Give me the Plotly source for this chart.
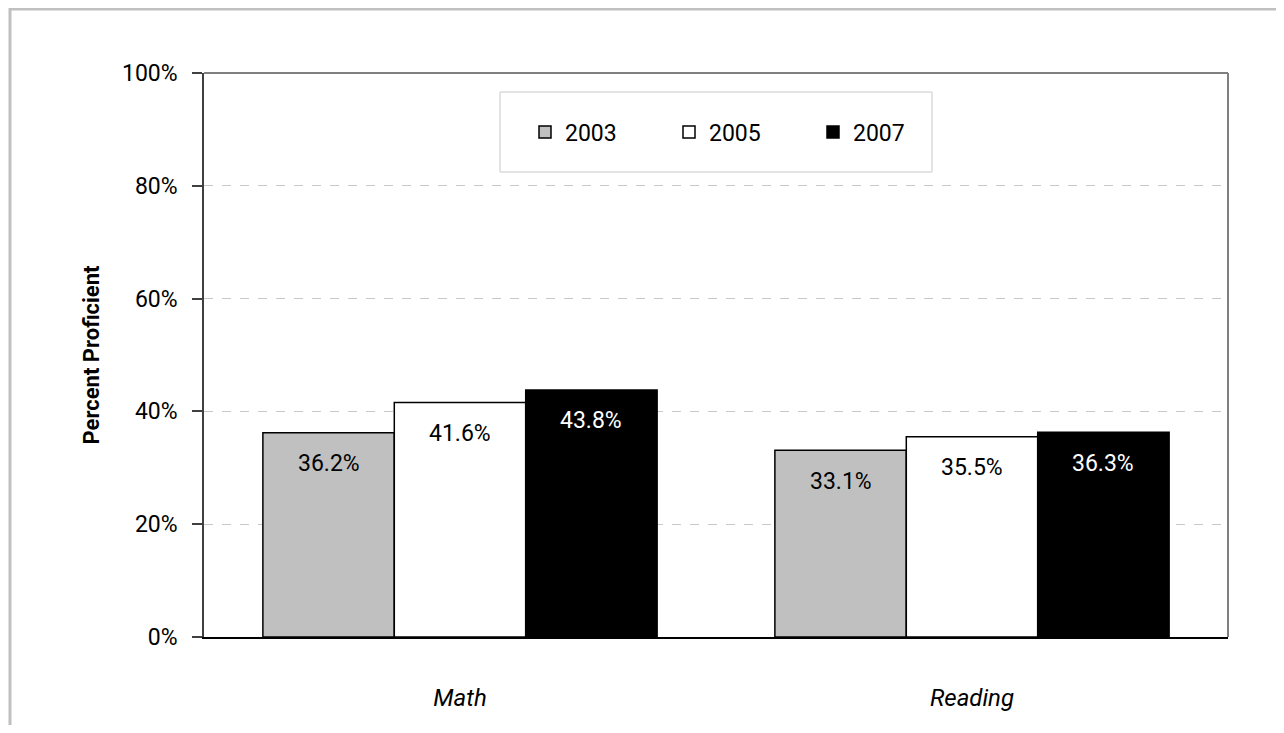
import plotly.graph_objects as go

categories = ["Math", "Reading"]
years = ["2003", "2005", "2007"]
values_2003 = [36.2, 33.1]
values_2005 = [41.6, 35.5]
values_2007 = [43.8, 36.3]
y_ticks = [0, 20, 40, 60, 80, 100]
y_tick_labels = ["0%", "20%", "40%", "60%", "80%", "100%"]

series = [values_2003, values_2005, values_2007]
fills = ["#c0c0c0", "#ffffff", "#000000"]
label_colors = ["#000000", "#000000", "#ffffff"]

FONT = "Roboto, Liberation Sans Narrow, sans-serif"

OFF = 8  # page offset of the plot div
W, H = 1284 - 2 * OFF, 733 - 2 * OFF
ML, MT = 204 - OFF, 73 - OFF
MR = W - (1228 - OFF)
MB = H - (637 - OFF)
PW, PH = W - ML - MR, H - MT - MB

def px_x(p):  # reference-pixel x -> paper
    return (p - OFF - ML) / PW

def px_y(p):  # reference-pixel y -> paper
    return (H - MB - (p - OFF)) / PH

fig = go.Figure()
for name, vals, fc in zip(years, series, fills):
    fig.add_trace(go.Bar(
        name=name, x=categories, y=vals,
        marker=dict(color=fc, line=dict(color="#000000", width=1.5)),
    ))

bar_px = PW / len(categories) * 0.77 / 3
annotations = []
for i, (vals, tc) in enumerate(zip(series, label_colors)):
    for cat, v in zip(categories, vals):
        annotations.append(dict(
            x=cat, y=v, xref="x", yref="y", text=f"{v:.1f}%",
            showarrow=False, xshift=(i - 1) * bar_px, yshift=-31,
            yanchor="middle", font=dict(family=FONT, size=23, color=tc),
        ))

shapes = [
    dict(type="rect", xref="paper", yref="paper",
         x0=px_x(10), x1=px_x(1295), y0=px_y(745), y1=px_y(9),
         line=dict(color="#c0c0c0", width=3), fillcolor="rgba(0,0,0,0)", layer="below"),
    dict(type="rect", xref="paper", yref="paper",
         x0=px_x(500), x1=px_x(932), y0=px_y(172), y1=px_y(92),
         line=dict(color="#c8c8c8", width=1), fillcolor="#ffffff", layer="above"),
    dict(type="line", xref="paper", yref="paper", x0=0, x1=1, y0=1, y1=1,
         line=dict(color="#808080", width=2)),
    dict(type="line", xref="paper", yref="paper", x0=1, x1=1, y0=0, y1=1,
         line=dict(color="#808080", width=2)),
]

fig.update_layout(
    width=W, height=H,
    margin=dict(l=ML, r=MR, t=MT, b=MB),
    paper_bgcolor="#ffffff", plot_bgcolor="#ffffff",
    barmode="group", bargap=0.23, bargroupgap=0,
    font=dict(family=FONT, size=22, color="#000000"),
    showlegend=True,
    legend=dict(orientation="h", x=px_x(525), xanchor="left",
                y=(px_y(172) + px_y(92)) / 2, yanchor="middle",
                bgcolor="rgba(0,0,0,0)", borderwidth=0,
                font=dict(family=FONT, size=23),
                entrywidth=99, entrywidthmode="pixels",
                traceorder="normal"),
    annotations=annotations,
    shapes=shapes,
    xaxis=dict(showgrid=False, showline=True, linecolor="#000000", linewidth=1.5,
               ticks="", tickfont=dict(family=FONT, size=24, color="#000000"),
               ticklabelstandoff=38, tickprefix="<i>", ticksuffix="</i>"),
    yaxis=dict(range=[0, 100], tickvals=y_ticks, ticktext=y_tick_labels,
               showgrid=True, gridcolor="#c8c8c8", griddash="dash", gridwidth=1,
               showline=True, linecolor="#404040", linewidth=1.5,
               ticks="outside", ticklen=10, tickcolor="#404040", tickwidth=1.5,
               tickfont=dict(family=FONT, size=23, color="#000000"),
               ticklabelstandoff=10,
               zeroline=False,
               title=dict(text="<b>Percent Proficient</b>", standoff=16,
                          font=dict(family=FONT, size=22, color="#000000"))),
)

fig.write_html("out.html")
